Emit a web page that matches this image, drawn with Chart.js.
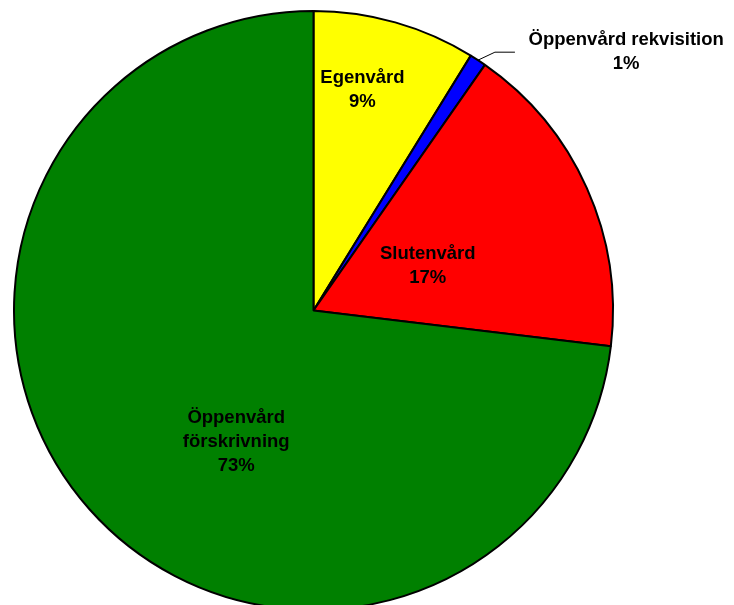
<!DOCTYPE html>
<html lang="sv">
<head>
    <meta charset="UTF-8">
    <title>Fördelning</title>
    <style>
        body {
            margin: 0;
            overflow: hidden;
            background: #fff;
        }
        #wrap {
            position: absolute;
            left: 0;
            top: 0;
        }
    </style>
    <script src="https://cdn.jsdelivr.net/npm/chart.js"></script>
</head>
<body>

<div id="wrap"><canvas id="pieChart" width="734" height="611"></canvas></div>

<script>
    // kategorier och andelar (procent), medsols från klockan 12
    const categories = ['Egenvård', 'Öppenvård rekvisition', 'Slutenvård', 'Öppenvård förskrivning'];
    const labelLines = [['Egenvård'], ['Öppenvård rekvisition'], ['Slutenvård'], ['Öppenvård', 'förskrivning']];
    const shares = [8.8, 0.9, 17.2, 73.1];
    const colors = ['#ffff00', '#0000ff', '#ff0000', '#008000'];

    // var etiketten hamnar: vinkel (grader medsols från 12) och andel av radien
    const labelPos = [
        { deg: 12.5, r: 0.755 },
        { deg: 50.4, r: 1.355 },
        { deg: 68.5, r: 0.41 },
        { deg: 210.4, r: 0.51 }
    ];

    const pieLabels = {
        id: 'pieLabels',
        afterDatasetsDraw(chart) {
            const ctx = chart.ctx;
            const meta = chart.getDatasetMeta(0);
            const data = chart.data.datasets[0].data;
            const total = data.reduce((a, b) => a + b, 0);
            ctx.save();
            ctx.font = 'bold 18.5px "Liberation Sans", Arial, sans-serif';
            ctx.fillStyle = '#000';
            ctx.textAlign = 'center';
            ctx.textBaseline = 'middle';
            meta.data.forEach((arc, i) => {
                const p = arc.getProps(['x', 'y', 'outerRadius', 'startAngle', 'endAngle'], true);
                const a = (labelPos[i].deg - 90) * Math.PI / 180;
                const lx = p.x + Math.cos(a) * p.outerRadius * labelPos[i].r;
                const ly = p.y + Math.sin(a) * p.outerRadius * labelPos[i].r;
                const lines = labelLines[i].concat([Math.round(data[i] / total * 100) + '%']);
                const lh = 24;
                const y0 = ly - (lines.length - 1) * lh / 2;
                lines.forEach((t, k) => ctx.fillText(t, lx, y0 + k * lh));

                // hänvisningslinje för etiketter utanför cirkeln
                if (labelPos[i].r > 1) {
                    const mid = (p.startAngle + p.endAngle) / 2;
                    const ex = p.x + Math.cos(mid) * p.outerRadius;
                    const ey = p.y + Math.sin(mid) * p.outerRadius;
                    ctx.beginPath();
                    ctx.lineWidth = 1;
                    ctx.strokeStyle = '#000';
                    ctx.moveTo(ex, ey);
                    ctx.lineTo(ex + 17, ey - 8);
                    ctx.lineTo(ex + 37, ey - 8);
                    ctx.stroke();
                }
            });
            ctx.restore();
        }
    };

    const ctx = document.getElementById('pieChart').getContext('2d');
    new Chart(ctx, {
        type: 'pie',
        data: {
            labels: categories,
            datasets: [{
                data: shares,
                backgroundColor: colors,
                borderColor: '#000',
                borderWidth: 2
            }]
        },
        options: {
            responsive: false,
            animation: false,
            layout: {
                padding: { top: 10, left: 13, right: 120, bottom: 0 }
            },
            plugins: {
                legend: { display: false },
                tooltip: { enabled: false }
            }
        },
        plugins: [pieLabels]
    });
</script>

</body>
</html>
